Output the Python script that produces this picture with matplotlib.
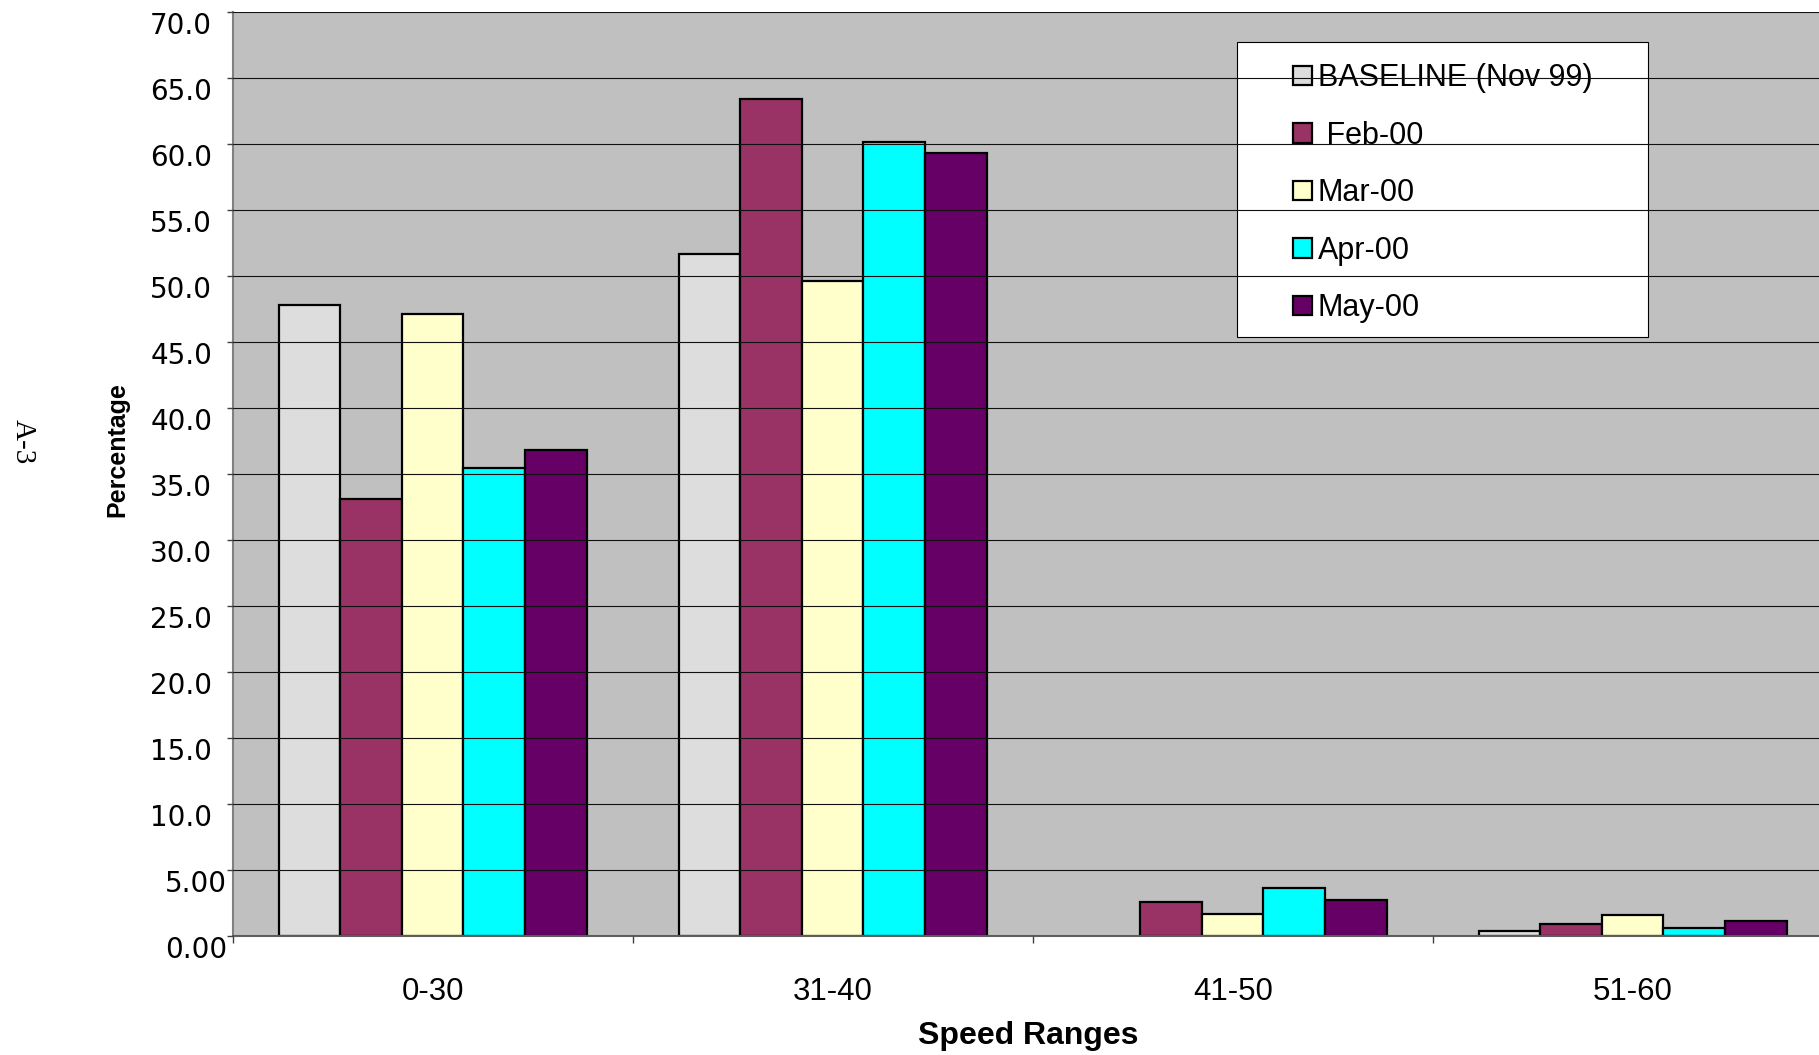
import matplotlib
matplotlib.use("Agg")
import matplotlib.pyplot as plt
from matplotlib.patches import Rectangle
from matplotlib.transforms import ScaledTranslation
import numpy as np

# datos
categories = ["0-30", "31-40", "41-50", "51-60"]
series_names = ["BASELINE (Nov 99)", " Feb-00", "Mar-00", "Apr-00", "May-00"]
baseline = [47.8, 51.7, 0.0, 0.4]
feb_00 = [33.1, 63.4, 2.6, 0.9]
mar_00 = [47.1, 49.6, 1.7, 1.6]
apr_00 = [35.5, 60.2, 3.6, 0.6]
may_00 = [36.8, 59.3, 2.7, 1.1]
y_ticks = [0, 5, 10, 15, 20, 25, 30, 35, 40, 45, 50, 55, 60, 65, 70]
y_tick_labels = ["0.00", "5.00", "10.0", "15.0", "20.0", "25.0", "30.0", "35.0",
                 "40.0", "45.0", "50.0", "55.0", "60.0", "65.0", "70.0"]

colors = ["#DDDDDD", "#993366", "#FFFFCC", "#00FFFF", "#660066"]

plt.rcParams["font.family"] = ["Liberation Sans", "DejaVu Sans"]

W, H = 1819, 1055
fig = plt.figure(figsize=(W / 100, H / 100), dpi=100)
ax = fig.add_axes([232.7 / W, 1 - 936 / H, 1600 / W, (936 - 12.3) / H])
ax.set_facecolor("#C0C0C0")

x = np.arange(len(categories))
width = 1 / 6.5
all_series = [baseline, feb_00, mar_00, apr_00, may_00]
handles = []
for j, vals in enumerate(all_series):
    bars = ax.bar(x + (j - 2) * width, vals, width, color=colors[j],
                  edgecolor="black", linewidth=1.6, label=series_names[j], zorder=1)
    for b in bars:
        if b.get_height() == 0:
            b.set_linewidth(0)
    handles.append(bars)

ax.set_xlim(-0.5, len(categories) - 0.5)
ax.set_ylim(0, 70)

# lineas de la rejilla por encima de las barras (como en Excel)
ax.set_axisbelow(False)
ax.yaxis.grid(True, color="#111111", linewidth=0.8)
ax.xaxis.grid(False)

ax.set_yticks(y_ticks)
ax.set_yticklabels(y_tick_labels, fontsize=20, va="top", family="DejaVu Sans")
ax.tick_params(axis="y", direction="out", length=4.3, width=1, color="#404040", pad=10.5)
for lab in ax.get_yticklabels():
    if lab.get_text() in ("0.00", "5.00"):
        lab.set_transform(lab.get_transform() + ScaledTranslation(15 / 100, 0, fig.dpi_scale_trans))

ax.set_xticks(np.arange(-0.5, len(categories), 1.0))
ax.set_xticklabels([])
ax.tick_params(axis="x", which="major", direction="out", length=5, width=1, color="#404040")
ax.set_xticks(x, minor=True)
ax.set_xticklabels(categories, minor=True, fontsize=22.5)
ax.tick_params(axis="x", which="minor", length=0, pad=29.5)

for side in ["top", "right"]:
    ax.spines[side].set_visible(False)
ax.spines["left"].set_color("#808080")
ax.spines["left"].set_linewidth(1.5)
ax.spines["bottom"].set_color("#606060")
ax.spines["bottom"].set_linewidth(1.5)

# leyenda: marco aparte para poder controlar los margenes
frame = Rectangle((1237 / W, 1 - 337 / H), 411 / W, 294.7 / H, transform=fig.transFigure,
                  facecolor="white", edgecolor="black", linewidth=0.8, zorder=2, clip_on=False)
ax.add_patch(frame)
leg = ax.legend(handles=handles, loc="upper left",
                bbox_to_anchor=(1278 / W, 1 - 48 / H), bbox_transform=fig.transFigure,
                frameon=False, fontsize=22, borderpad=0, labelspacing=0.9,
                handlelength=0.6, handleheight=0.6, handletextpad=0.2)
leg.set_zorder(2.2)

fig.text(1028 / W, 1 - 1036 / H, "Speed Ranges", fontsize=23, fontweight="bold",
         ha="center", va="center")
fig.text(117 / W, 1 - 450 / H, "Percentage", fontsize=18, fontweight="bold",
         rotation=90, ha="center", va="center")
fig.text(23 / W, 1 - 442 / H, "A-3", fontsize=21, family="Liberation Serif",
         rotation=-90, ha="center", va="center")

fig.savefig("out.png", dpi=100)
